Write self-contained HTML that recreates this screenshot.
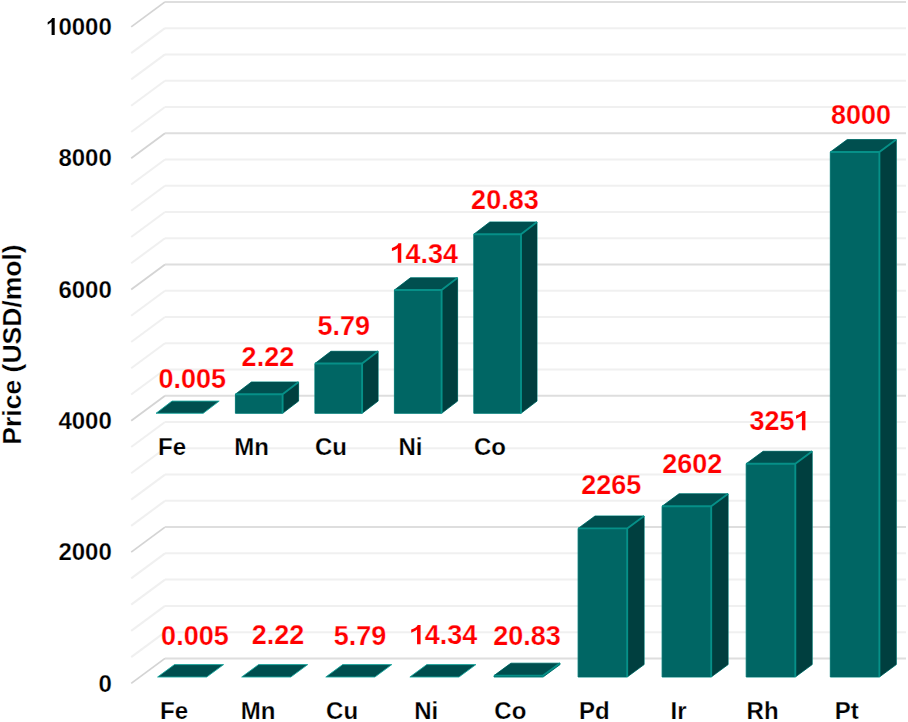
<!DOCTYPE html>
<html><head><meta charset="utf-8"><style>
html,body{margin:0;padding:0;background:#fff;}
svg{display:block;}
text{font-family:"Liberation Sans",sans-serif;font-weight:bold;stroke:#fff;stroke-width:0.25px;}
.v{fill:#ff0000;font-size:27px;text-anchor:middle;stroke:#fff;stroke-width:0.25px;}
.c{fill:#000;font-size:24px;text-anchor:middle;}
.t{fill:#000;font-size:24px;text-anchor:end;}
.yt{fill:#000;font-size:26.5px;text-anchor:middle;}
</style></head><body>
<svg width="908" height="722" viewBox="0 0 908 722">
<rect width="908" height="722" fill="#fff"/>
<path d="M131.2 26.90 L165.0 1.90" fill="none" stroke="#d4d4d4" stroke-width="1.8"/>
<path d="M165.0 1.90 L906.0 1.90" fill="none" stroke="#dedede" stroke-width="2.0"/>
<path d="M131.2 53.16 L165.0 28.16" fill="none" stroke="#f0f0f0" stroke-width="2.0"/>
<path d="M165.0 28.16 L906.0 28.16" fill="none" stroke="#f0f0f0" stroke-width="2.0"/>
<path d="M131.2 79.42 L165.0 54.42" fill="none" stroke="#f0f0f0" stroke-width="2.0"/>
<path d="M165.0 54.42 L906.0 54.42" fill="none" stroke="#f0f0f0" stroke-width="2.0"/>
<path d="M131.2 105.68 L165.0 80.68" fill="none" stroke="#f0f0f0" stroke-width="2.0"/>
<path d="M165.0 80.68 L906.0 80.68" fill="none" stroke="#f0f0f0" stroke-width="2.0"/>
<path d="M131.2 131.94 L165.0 106.94" fill="none" stroke="#f0f0f0" stroke-width="2.0"/>
<path d="M165.0 106.94 L906.0 106.94" fill="none" stroke="#f0f0f0" stroke-width="2.0"/>
<path d="M131.2 158.20 L165.0 133.20" fill="none" stroke="#d4d4d4" stroke-width="1.8"/>
<path d="M165.0 133.20 L906.0 133.20" fill="none" stroke="#dedede" stroke-width="2.0"/>
<path d="M131.2 184.46 L165.0 159.46" fill="none" stroke="#f0f0f0" stroke-width="2.0"/>
<path d="M165.0 159.46 L906.0 159.46" fill="none" stroke="#f0f0f0" stroke-width="2.0"/>
<path d="M131.2 210.72 L165.0 185.72" fill="none" stroke="#f0f0f0" stroke-width="2.0"/>
<path d="M165.0 185.72 L906.0 185.72" fill="none" stroke="#f0f0f0" stroke-width="2.0"/>
<path d="M131.2 236.98 L165.0 211.98" fill="none" stroke="#f0f0f0" stroke-width="2.0"/>
<path d="M165.0 211.98 L906.0 211.98" fill="none" stroke="#f0f0f0" stroke-width="2.0"/>
<path d="M131.2 263.24 L165.0 238.24" fill="none" stroke="#f0f0f0" stroke-width="2.0"/>
<path d="M165.0 238.24 L906.0 238.24" fill="none" stroke="#f0f0f0" stroke-width="2.0"/>
<path d="M131.2 289.50 L165.0 264.50" fill="none" stroke="#d4d4d4" stroke-width="1.8"/>
<path d="M165.0 264.50 L906.0 264.50" fill="none" stroke="#dedede" stroke-width="2.0"/>
<path d="M131.2 315.76 L165.0 290.76" fill="none" stroke="#f0f0f0" stroke-width="2.0"/>
<path d="M165.0 290.76 L906.0 290.76" fill="none" stroke="#f0f0f0" stroke-width="2.0"/>
<path d="M131.2 342.02 L165.0 317.02" fill="none" stroke="#f0f0f0" stroke-width="2.0"/>
<path d="M165.0 317.02 L906.0 317.02" fill="none" stroke="#f0f0f0" stroke-width="2.0"/>
<path d="M131.2 368.28 L165.0 343.28" fill="none" stroke="#f0f0f0" stroke-width="2.0"/>
<path d="M165.0 343.28 L906.0 343.28" fill="none" stroke="#f0f0f0" stroke-width="2.0"/>
<path d="M131.2 394.54 L165.0 369.54" fill="none" stroke="#f0f0f0" stroke-width="2.0"/>
<path d="M165.0 369.54 L906.0 369.54" fill="none" stroke="#f0f0f0" stroke-width="2.0"/>
<path d="M131.2 420.80 L165.0 395.80" fill="none" stroke="#d4d4d4" stroke-width="1.8"/>
<path d="M165.0 395.80 L906.0 395.80" fill="none" stroke="#dedede" stroke-width="2.0"/>
<path d="M131.2 447.06 L165.0 422.06" fill="none" stroke="#f0f0f0" stroke-width="2.0"/>
<path d="M165.0 422.06 L906.0 422.06" fill="none" stroke="#f0f0f0" stroke-width="2.0"/>
<path d="M131.2 473.32 L165.0 448.32" fill="none" stroke="#f0f0f0" stroke-width="2.0"/>
<path d="M165.0 448.32 L906.0 448.32" fill="none" stroke="#f0f0f0" stroke-width="2.0"/>
<path d="M131.2 499.58 L165.0 474.58" fill="none" stroke="#f0f0f0" stroke-width="2.0"/>
<path d="M165.0 474.58 L906.0 474.58" fill="none" stroke="#f0f0f0" stroke-width="2.0"/>
<path d="M131.2 525.84 L165.0 500.84" fill="none" stroke="#f0f0f0" stroke-width="2.0"/>
<path d="M165.0 500.84 L906.0 500.84" fill="none" stroke="#f0f0f0" stroke-width="2.0"/>
<path d="M131.2 552.10 L165.0 527.10" fill="none" stroke="#d4d4d4" stroke-width="1.8"/>
<path d="M165.0 527.10 L906.0 527.10" fill="none" stroke="#dedede" stroke-width="2.0"/>
<path d="M131.2 578.36 L165.0 553.36" fill="none" stroke="#f0f0f0" stroke-width="2.0"/>
<path d="M165.0 553.36 L906.0 553.36" fill="none" stroke="#f0f0f0" stroke-width="2.0"/>
<path d="M131.2 604.62 L165.0 579.62" fill="none" stroke="#f0f0f0" stroke-width="2.0"/>
<path d="M165.0 579.62 L906.0 579.62" fill="none" stroke="#f0f0f0" stroke-width="2.0"/>
<path d="M131.2 630.88 L165.0 605.88" fill="none" stroke="#f0f0f0" stroke-width="2.0"/>
<path d="M165.0 605.88 L906.0 605.88" fill="none" stroke="#f0f0f0" stroke-width="2.0"/>
<path d="M131.2 657.14 L165.0 632.14" fill="none" stroke="#f0f0f0" stroke-width="2.0"/>
<path d="M165.0 632.14 L906.0 632.14" fill="none" stroke="#f0f0f0" stroke-width="2.0"/>
<path d="M131.2 683.40 L165.0 658.40" fill="none" stroke="#d4d4d4" stroke-width="1.8"/>
<path d="M165.0 658.40 L906.0 658.40" fill="none" stroke="#dedede" stroke-width="2.0"/>
<path d="M157.6 677.0 L206.7 677.0 L223.6 664.6 L174.5 664.6 Z" fill="#004f4f" stroke="#1aa89f" stroke-width="0.9" stroke-linejoin="round"/>
<text x="194.9" y="644.5" class="v">0.005</text>
<text x="174.0" y="719" class="c">Fe</text>
<path d="M241.7 677.0 L290.8 677.0 L307.7 664.6 L258.6 664.6 Z" fill="#004f4f" stroke="#1aa89f" stroke-width="0.9" stroke-linejoin="round"/>
<text x="278.1" y="644.3" class="v">2.22</text>
<text x="258.0" y="719" class="c">Mn</text>
<path d="M325.8 677.0 L374.9 677.0 L391.8 664.6 L342.7 664.6 Z" fill="#004f4f" stroke="#1aa89f" stroke-width="0.9" stroke-linejoin="round"/>
<text x="360.0" y="644.5" class="v">5.79</text>
<text x="342.1" y="719" class="c">Cu</text>
<path d="M409.9 677.0 L459.0 677.0 L475.9 664.6 L426.8 664.6 Z" fill="#004f4f" stroke="#1aa89f" stroke-width="0.9" stroke-linejoin="round"/>
<text x="443.5" y="644.3" class="v"> 4.34</text><path d="M0.272 0 L0.402 0 L0.402 0.716 L0.296 0.716 C0.268 0.64 0.17 0.575 0.055 0.545 L0.055 0.43 C0.14 0.455 0.215 0.495 0.272 0.545 Z" transform="translate(409.72,644.30) scale(27,-27)" fill="#ff0000"/>
<text x="426.2" y="719" class="c">Ni</text>
<path d="M494.0 677.0 L543.1 677.0 L560.0 664.6 L560.0 663.2 L510.9 663.2 L494.0 675.6 Z" fill="none" stroke="#0f8c86" stroke-width="1.0" stroke-linejoin="round"/><path d="M494.0 677.0 L543.1 677.0 L543.1 675.6 L494.0 675.6 Z" fill="#006664"/><path d="M494.0 675.6 L543.1 675.6 L560.0 663.2 L510.9 663.2 Z" fill="#004f4f"/><path d="M543.1 677.0 L560.0 664.6 L560.0 663.2 L543.1 675.6 Z" fill="#003f3f"/><path d="M494.0 675.6 L543.1 675.6 L543.1 677.0 M543.1 675.6 L560.0 663.2" fill="none" stroke="#069088" stroke-width="1.9" stroke-linejoin="round"/>
<text x="527.1" y="644.5" class="v">20.83</text>
<text x="510.3" y="719" class="c">Co</text>
<path d="M578.1 677.0 L627.2 677.0 L644.1 664.6 L644.1 516.0 L595.0 516.0 L578.1 528.4 Z" fill="none" stroke="#0f8c86" stroke-width="1.0" stroke-linejoin="round"/><path d="M578.1 677.0 L627.2 677.0 L627.2 528.4 L578.1 528.4 Z" fill="#006664"/><path d="M578.1 528.4 L627.2 528.4 L644.1 516.0 L595.0 516.0 Z" fill="#004f4f"/><path d="M627.2 677.0 L644.1 664.6 L644.1 516.0 L627.2 528.4 Z" fill="#003f3f"/><path d="M578.1 528.4 L627.2 528.4 L627.2 677.0 M627.2 528.4 L644.1 516.0" fill="none" stroke="#069088" stroke-width="1.9" stroke-linejoin="round"/>
<text x="611.2" y="493.6" class="v">2265</text>
<text x="594.4" y="719" class="c">Pd</text>
<path d="M662.1 677.0 L711.2 677.0 L728.1 664.6 L728.1 493.8 L679.0 493.8 L662.1 506.2 Z" fill="none" stroke="#0f8c86" stroke-width="1.0" stroke-linejoin="round"/><path d="M662.1 677.0 L711.2 677.0 L711.2 506.2 L662.1 506.2 Z" fill="#006664"/><path d="M662.1 506.2 L711.2 506.2 L728.1 493.8 L679.0 493.8 Z" fill="#004f4f"/><path d="M711.2 677.0 L728.1 664.6 L728.1 493.8 L711.2 506.2 Z" fill="#003f3f"/><path d="M662.1 506.2 L711.2 506.2 L711.2 677.0 M711.2 506.2 L728.1 493.8" fill="none" stroke="#069088" stroke-width="1.9" stroke-linejoin="round"/>
<text x="692.2" y="472.8" class="v">2602</text>
<text x="678.5" y="719" class="c">Ir</text>
<path d="M746.2 677.0 L795.3 677.0 L812.2 664.6 L812.2 451.3 L763.1 451.3 L746.2 463.7 Z" fill="none" stroke="#0f8c86" stroke-width="1.0" stroke-linejoin="round"/><path d="M746.2 677.0 L795.3 677.0 L795.3 463.7 L746.2 463.7 Z" fill="#006664"/><path d="M746.2 463.7 L795.3 463.7 L812.2 451.3 L763.1 451.3 Z" fill="#004f4f"/><path d="M795.3 677.0 L812.2 664.6 L812.2 451.3 L795.3 463.7 Z" fill="#003f3f"/><path d="M746.2 463.7 L795.3 463.7 L795.3 677.0 M795.3 463.7 L812.2 451.3" fill="none" stroke="#069088" stroke-width="1.9" stroke-linejoin="round"/>
<text x="779.5" y="430.3" class="v">325 </text><path d="M0.272 0 L0.402 0 L0.402 0.716 L0.296 0.716 C0.268 0.64 0.17 0.575 0.055 0.545 L0.055 0.43 C0.14 0.455 0.215 0.495 0.272 0.545 Z" transform="translate(794.57,430.30) scale(27,-27)" fill="#ff0000"/>
<text x="762.6" y="719" class="c">Rh</text>
<path d="M830.3 677.0 L879.4 677.0 L896.3 664.6 L896.3 139.6 L847.2 139.6 L830.3 152.0 Z" fill="none" stroke="#0f8c86" stroke-width="1.0" stroke-linejoin="round"/><path d="M830.3 677.0 L879.4 677.0 L879.4 152.0 L830.3 152.0 Z" fill="#006664"/><path d="M830.3 152.0 L879.4 152.0 L896.3 139.6 L847.2 139.6 Z" fill="#004f4f"/><path d="M879.4 677.0 L896.3 664.6 L896.3 139.6 L879.4 152.0 Z" fill="#003f3f"/><path d="M830.3 152.0 L879.4 152.0 L879.4 677.0 M879.4 152.0 L896.3 139.6" fill="none" stroke="#069088" stroke-width="1.9" stroke-linejoin="round"/>
<text x="861.0" y="123.6" class="v">8000</text>
<text x="846.7" y="719" class="c">Pt</text>
<path d="M156.0 413.3 L203.2 413.3 L219.2 401.1 L172.0 401.1 Z" fill="#004f4f" stroke="#1aa89f" stroke-width="0.9" stroke-linejoin="round"/>
<text x="192.2" y="388.4" class="v">0.005</text>
<text x="172.1" y="454.5" class="c">Fe</text>
<path d="M235.4 413.3 L282.6 413.3 L298.6 401.1 L298.6 382.0 L251.4 382.0 L235.4 394.2 Z" fill="none" stroke="#0f8c86" stroke-width="1.0" stroke-linejoin="round"/><path d="M235.4 413.3 L282.6 413.3 L282.6 394.2 L235.4 394.2 Z" fill="#006664"/><path d="M235.4 394.2 L282.6 394.2 L298.6 382.0 L251.4 382.0 Z" fill="#004f4f"/><path d="M282.6 413.3 L298.6 401.1 L298.6 382.0 L282.6 394.2 Z" fill="#003f3f"/><path d="M235.4 394.2 L282.6 394.2 L282.6 413.3 M282.6 394.2 L298.6 382.0" fill="none" stroke="#069088" stroke-width="1.9" stroke-linejoin="round"/>
<text x="267.9" y="366.1" class="v">2.22</text>
<text x="251.6" y="454.5" class="c">Mn</text>
<path d="M314.9 413.3 L362.1 413.3 L378.1 401.1 L378.1 351.3 L330.9 351.3 L314.9 363.5 Z" fill="none" stroke="#0f8c86" stroke-width="1.0" stroke-linejoin="round"/><path d="M314.9 413.3 L362.1 413.3 L362.1 363.5 L314.9 363.5 Z" fill="#006664"/><path d="M314.9 363.5 L362.1 363.5 L378.1 351.3 L330.9 351.3 Z" fill="#004f4f"/><path d="M362.1 413.3 L378.1 401.1 L378.1 351.3 L362.1 363.5 Z" fill="#003f3f"/><path d="M314.9 363.5 L362.1 363.5 L362.1 413.3 M362.1 363.5 L378.1 351.3" fill="none" stroke="#069088" stroke-width="1.9" stroke-linejoin="round"/>
<text x="343.8" y="335.2" class="v">5.79</text>
<text x="331.0" y="454.5" class="c">Cu</text>
<path d="M394.4 413.3 L441.6 413.3 L457.6 401.1 L457.6 277.8 L410.4 277.8 L394.4 290.0 Z" fill="none" stroke="#0f8c86" stroke-width="1.0" stroke-linejoin="round"/><path d="M394.4 413.3 L441.6 413.3 L441.6 290.0 L394.4 290.0 Z" fill="#006664"/><path d="M394.4 290.0 L441.6 290.0 L457.6 277.8 L410.4 277.8 Z" fill="#004f4f"/><path d="M441.6 413.3 L457.6 401.1 L457.6 277.8 L441.6 290.0 Z" fill="#003f3f"/><path d="M394.4 290.0 L441.6 290.0 L441.6 413.3 M441.6 290.0 L457.6 277.8" fill="none" stroke="#069088" stroke-width="1.9" stroke-linejoin="round"/>
<text x="424.2" y="262.7" class="v"> 4.34</text><path d="M0.272 0 L0.402 0 L0.402 0.716 L0.296 0.716 C0.268 0.64 0.17 0.575 0.055 0.545 L0.055 0.43 C0.14 0.455 0.215 0.495 0.272 0.545 Z" transform="translate(390.42,262.70) scale(27,-27)" fill="#ff0000"/>
<text x="410.5" y="454.5" class="c">Ni</text>
<path d="M473.8 413.3 L521.0 413.3 L537.0 401.1 L537.0 222.0 L489.8 222.0 L473.8 234.2 Z" fill="none" stroke="#0f8c86" stroke-width="1.0" stroke-linejoin="round"/><path d="M473.8 413.3 L521.0 413.3 L521.0 234.2 L473.8 234.2 Z" fill="#006664"/><path d="M473.8 234.2 L521.0 234.2 L537.0 222.0 L489.8 222.0 Z" fill="#004f4f"/><path d="M521.0 413.3 L537.0 401.1 L537.0 222.0 L521.0 234.2 Z" fill="#003f3f"/><path d="M473.8 234.2 L521.0 234.2 L521.0 413.3 M521.0 234.2 L537.0 222.0" fill="none" stroke="#069088" stroke-width="1.9" stroke-linejoin="round"/>
<text x="504.9" y="209.0" class="v">20.83</text>
<text x="489.9" y="454.5" class="c">Co</text>
<text x="111.8" y="691.6" class="t">0</text>
<text x="111.8" y="560.3" class="t">2000</text>
<text x="111.8" y="429.0" class="t">4000</text>
<text x="111.8" y="297.7" class="t">6000</text>
<text x="111.8" y="166.4" class="t">8000</text>
<text x="111.8" y="35.1" class="t"> 0000</text><path d="M0.272 0 L0.402 0 L0.402 0.716 L0.296 0.716 C0.268 0.64 0.17 0.575 0.11 0.545 L0.11 0.43 C0.14 0.455 0.215 0.495 0.272 0.545 Z" transform="translate(45.06,35.10) scale(24,-24)" fill="#000"/>
<text transform="translate(21.3,344.5) rotate(-90)" class="yt">Price (USD/mol)</text>
</svg>
</body></html>
